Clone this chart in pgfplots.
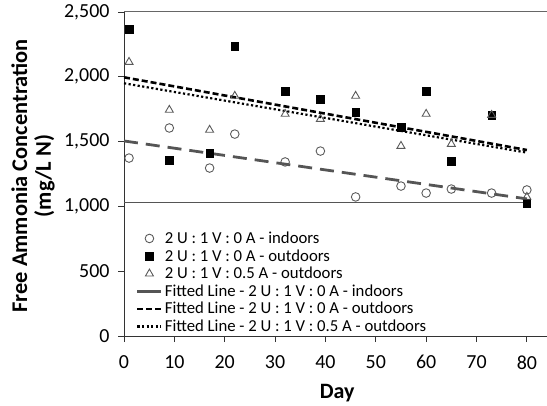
\documentclass[border=0pt]{standalone}
\usepackage{pgfplots}
\pgfplotsset{compat=1.18}
\usepackage{fontspec}
\setmainfont{Carlito}
\definecolor{mk}{HTML}{5A5A5A}
\definecolor{ln}{HTML}{555555}
\begin{document}
\begin{tikzpicture}[x=1bp,y=1bp]
\useasboundingbox (0,0) rectangle (547,405);
\begin{axis}[
  at={(124bp,69bp)}, anchor=south west,
  width=423bp, height=324bp, scale only axis,
  xmin=0, xmax=84, ymin=0, ymax=2500,
  axis x line*=bottom, axis y line*=left,
  axis line style={black!80, line width=1pt, -},
  xtick={0,10,...,80}, ytick={0,500,...,2500},
  tick align=outside, major tick length=6bp,
  tick style={black!80, line width=0.8pt},
  ticklabel style={font=\fontsize{20}{24}\selectfont},
  xticklabel style={yshift=-10bp},
  yticklabel style={xshift=-5bp},
  /pgf/number format/.cd, 1000 sep={,}, assume math mode=true, /pgfplots/.cd,
  xlabel={Day},
  ylabel={Free Ammonia Concentration\\(mg/L N)},
  label style={font=\bfseries\fontsize{22}{24}\selectfont, align=center},
  ylabel style={font=\bfseries\fontsize{22.5}{24}\selectfont},
  xlabel style={at={(axis description cs:0.504,-0.176)}, anchor=center},
  ylabel style={at={(axis description cs:-0.215,0.494)}, anchor=center},
  clip=false,
  legend style={at={(axis description cs:0.028,0.328)}, anchor=north west,
    draw=none, fill=none, font=\fontsize{16.8}{18.5}\selectfont, row sep=0.5bp, inner sep=0pt},
  legend cell align=left,
  legend image code/.code={\draw[mark repeat=2,mark phase=2,#1] plot coordinates {(0bp,0bp) (12bp,0bp) (24bp,0bp)};},
]
\draw[black!60, line width=1pt] (rel axis cs:0,1) -- (rel axis cs:1,1);
\addplot[only marks, mark=o, mark size=4.3bp, draw=mk, mark options={line width=0.9pt, fill=white}]
coordinates {(1,1373) (9,1605) (17,1296) (22,1558) (32,1343) (39,1427) (46,1073) (55,1157) (60,1103) (65,1134) (73,1103) (80,1127)};
\addlegendentry{2 U : 1 V : 0 A - indoors}
\addplot[only marks, mark=square*, mark size=3.8bp, draw=black, fill=black]
coordinates {(1,2369) (9,1358) (17,1412) (22,2238) (32,1890) (39,1829) (46,1728) (55,1612) (60,1890) (65,1351) (73,1705) (80,1026)};
\addlegendentry{2 U : 1 V : 0 A - outdoors}
\addplot[only marks, mark=triangle, mark size=4.6bp, draw=mk, mark options={line width=0.9pt}]
coordinates {(1,2114) (9,1744) (17,1590) (22,1852) (32,1713) (39,1674) (46,1852) (55,1466) (60,1713) (65,1481) (73,1705) (80,1073)};
\addlegendentry{2 U : 1 V : 0.5 A - outdoors}
\addplot[ln, line width=1.6pt, legend image post style={line width=2.8pt}] coordinates {(0,1030) (80,1030)};
\addlegendentry{Fitted Line - 2 U : 1 V : 0 A - indoors}
\addplot[black, line width=2.6pt, dash pattern=on 6bp off 3bp] coordinates {(0,1996) (80,1435)};
\addlegendentry{Fitted Line - 2 U : 1 V : 0 A - outdoors}
\addplot[black, line width=2.2pt, dash pattern=on 2.2bp off 2.4bp] coordinates {(0,1950) (80,1415)};
\addlegendentry{Fitted Line - 2 U : 1 V : 0.5 A - outdoors}
\addplot[ln, line width=2.8pt, dash pattern=on 14bp off 8bp, forget plot] coordinates {(0,1505) (80,1058)};
\end{axis}
\end{tikzpicture}
\end{document}
